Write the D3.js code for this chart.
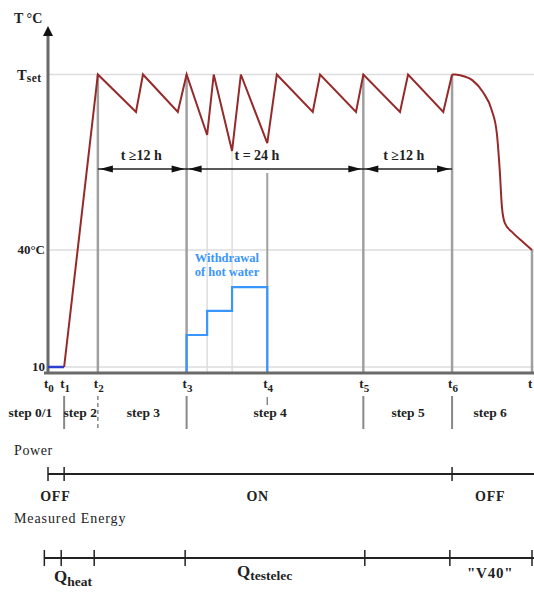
<!DOCTYPE html>
<html><head><meta charset="utf-8">
<script src="https://cdn.jsdelivr.net/npm/d3@7"></script>
<style>body{margin:0;background:#fff}svg{display:block}text{font-family:"Liberation Serif","Times New Roman",serif}</style>
</head><body><svg id="c" width="534" height="594"></svg>
<script>
// ---- data ----
const tickNames = ["0","1","2","3","4","5","6","7"];
const tickTimes = [0, 2.2, 6.8, 18.9, 29.9, 43, 55.1, 66];
const stepNames = ["step 0/1","step 2","step 3","step 4","step 5","step 6"];
const stepCenters = [-2.4, 4.4, 13.0, 30.3, 49.1, 60.3];
const sawTimes = [2.2, 6.8, 12.0, 12.95, 17.7, 18.9, 21.7, 22.6, 25.1, 26.3, 29.9, 31.2, 36.1, 37.1, 42.0, 43.0, 48.0, 49.1, 53.9, 55.1];
const sawTemps = [10, 85, 75.4, 85, 75.4, 85, 69.5, 85, 65.4, 85, 67.4, 85, 75.4, 85, 75.4, 85, 75.4, 85, 75.4, 85];
const coolTimes = [55.1, 55.5, 56.2, 57.9, 59.3, 60.5, 61.2, 61.6, 61.9, 62.3, 63.4, 64.8, 66];
const coolTemps = [85, 85, 84.8, 83.5, 80.5, 75.9, 70, 60.5, 51, 46.9, 44.4, 42, 40];
const drawTimes = [18.9, 21.7, 25.1, 29.9];
const drawLevels = [18.2, 24.4, 30.5];
const spanLabels = ["t \u226512 h", "t = 24 h", "t \u226512 h"];
const spanStarts = [6.8, 18.9, 43];
const spanEnds = [18.9, 43, 55.1];
const tempLabels = [40, 10];
const Tset = 85;
const powerTicks = [0, 2.2, 55.1];
const powerLabels = ["OFF","ON","OFF"];
const powerLabelPos = [1.0, 28.6, 60.3];
const energyTicks = [-0.5, 1.8, 6.3, 18.7, 43.2, 54.8, 66];

// ---- scales ----
const x = d3.scaleLinear().domain([0, 66]).range([48, 532]);
const y = d3.scaleLinear().domain([10, 40]).range([367, 250]);
const svg = d3.select("#c");
const ink = "#222";

// gridlines
[Tset, 40, 10].forEach(t => {
  svg.append("line").attr("x1", x(0)).attr("x2", 534).attr("y1", y(t)).attr("y2", y(t))
    .attr("stroke", "#ddd").attr("stroke-width", 1.5);
});

// light trough lines in step 4
[21.7, 25.1].forEach((t, i) => {
  svg.append("line").attr("x1", x(t)).attr("x2", x(t)).attr("y1", y(sawTemps[6 + i * 2])).attr("y2", 373)
    .attr("stroke", "#ddd").attr("stroke-width", 1.5);
});

// main verticals
const vCol = "#a0a0a0";
[2, 3, 5, 6].forEach(i => {
  svg.append("line").attr("x1", x(tickTimes[i])).attr("x2", x(tickTimes[i])).attr("y1", y(Tset)).attr("y2", 373)
    .attr("stroke", vCol).attr("stroke-width", 2.5);
});
svg.append("line").attr("x1", x(tickTimes[4])).attr("x2", x(tickTimes[4])).attr("y1", 173).attr("y2", 373)
  .attr("stroke", vCol).attr("stroke-width", 2);
svg.append("line").attr("x1", x(tickTimes[7])).attr("x2", x(tickTimes[7])).attr("y1", y(40)).attr("y2", 373)
  .attr("stroke", vCol).attr("stroke-width", 2.5);

// withdrawal steps
const drawPts = [[drawTimes[0], 8.5]];
drawLevels.forEach((lv, i) => { drawPts.push([drawTimes[i], lv]); drawPts.push([drawTimes[i + 1], lv]); });
drawPts.push([drawTimes[3], 8.5]);
svg.append("path").attr("d", d3.line().x(d => x(d[0])).y(d => y(d[1]))(drawPts))
  .attr("fill", "none").attr("stroke", "#3a96ff").attr("stroke-width", 2.2);
const wt = svg.append("text").attr("text-anchor", "middle").attr("fill", "#3a96ff")
  .attr("font-size", 12.5).attr("font-weight", "bold");
wt.append("tspan").attr("x", x(24.4)).attr("y", 262).text("Withdrawal");
wt.append("tspan").attr("x", x(24.4)).attr("y", 276).text("of hot water");

// axes
svg.append("line").attr("x1", 44).attr("x2", 534).attr("y1", 373).attr("y2", 373)
  .attr("stroke", "#6a6a6a").attr("stroke-width", 3);
svg.append("line").attr("x1", x(0)).attr("x2", x(0)).attr("y1", 34).attr("y2", 374)
  .attr("stroke", "#6a6a6a").attr("stroke-width", 3);
svg.append("path").attr("d", `M${x(0)},26 L${x(0) - 5},36 L${x(0) + 5},36 Z`).attr("fill", "#111");

// blue start segment
svg.append("line").attr("x1", x(0)).attr("x2", x(tickTimes[1])).attr("y1", y(10)).attr("y2", y(10))
  .attr("stroke", "#2a3fd0").attr("stroke-width", 2.5);

// temperature curve
const red = "#962a2a";
svg.append("path").attr("d", d3.line().x(d => x(d)).y((d, i) => y(sawTemps[i]))(sawTimes))
  .attr("fill", "none").attr("stroke", red).attr("stroke-width", 2);
svg.append("path").attr("d", d3.line().curve(d3.curveMonotoneX).x(d => x(d)).y((d, i) => y(coolTemps[i]))(coolTimes))
  .attr("fill", "none").attr("stroke", red).attr("stroke-width", 2);

// span arrows
const ay = 169;
svg.append("line").attr("x1", x(spanStarts[0])).attr("x2", x(spanEnds[2])).attr("y1", ay).attr("y2", ay)
  .attr("stroke", "#222").attr("stroke-width", 1.3);
const arrow = (xt, dir) => svg.append("path")
  .attr("d", `M${xt},${ay} L${xt - dir * 13},${ay - 3.5} L${xt - dir * 13},${ay + 3.5} Z`).attr("fill", "#111");
const labelOffsets = [-1, -18, -4];
spanStarts.forEach((s, i) => {
  arrow(x(s) + 2, -1);
  arrow(x(spanEnds[i]) - 2, 1);
  svg.append("text").attr("x", (x(s) + x(spanEnds[i])) / 2 + labelOffsets[i]).attr("y", 160)
    .attr("text-anchor", "middle").attr("font-size", 14).attr("font-weight", "bold").attr("fill", ink)
    .text(spanLabels[i]);
});

// axis labels
svg.append("text").attr("x", 14).attr("y", 23).attr("font-size", 14).attr("font-weight", "bold").attr("fill", ink).text("T \u00b0C");
const ts = svg.append("text").attr("x", 17).attr("y", y(Tset) + 5).attr("font-size", 14.5).attr("font-weight", "bold").attr("fill", ink);
ts.append("tspan").text("T");
ts.append("tspan").attr("font-size", 11.5).attr("dy", 2).attr("letter-spacing", 0.5).text("set");
tempLabels.forEach(t => {
  svg.append("text").attr("x", 45).attr("y", y(t) + 4).attr("text-anchor", "end").attr("font-size", 13)
    .attr("font-weight", "bold").attr("fill", ink).text(t === 40 ? "40\u00b0C" : t);
});

// t tick labels
tickTimes.forEach((t, i) => {
  const tx = svg.append("text").attr("x", x(t) - 4).attr("y", 388).attr("font-size", 13)
    .attr("font-weight", "bold").attr("fill", ink);
  tx.append("tspan").text("t");
  tx.append("tspan").attr("font-size", 11).attr("dy", 4).text(i === 7 ? "" : tickNames[i]);
});

// step separators
const sepCol = "#888";
[1, 3, 5, 6].forEach(i => {
  svg.append("line").attr("x1", x(tickTimes[i])).attr("x2", x(tickTimes[i])).attr("y1", 396).attr("y2", 429)
    .attr("stroke", sepCol).attr("stroke-width", 2);
});
svg.append("line").attr("x1", x(tickTimes[2])).attr("x2", x(tickTimes[2])).attr("y1", 396).attr("y2", 430)
  .attr("stroke", sepCol).attr("stroke-width", 1.5).attr("stroke-dasharray", "4,3");
svg.append("line").attr("x1", x(tickTimes[4])).attr("x2", x(tickTimes[4])).attr("y1", 397).attr("y2", 405)
  .attr("stroke", sepCol).attr("stroke-width", 1.5);
stepNames.forEach((s, i) => {
  svg.append("text").attr("x", x(stepCenters[i])).attr("y", 417).attr("text-anchor", "middle")
    .attr("font-size", 13.5).attr("font-weight", "bold").attr("fill", ink).text(s);
});

// Power timeline
svg.append("text").attr("x", 14).attr("y", 455).attr("font-size", 14).attr("letter-spacing", 0.6).attr("fill", ink).text("Power");
svg.append("line").attr("x1", x(powerTicks[0])).attr("x2", 534).attr("y1", 474).attr("y2", 474)
  .attr("stroke", "#222").attr("stroke-width", 2);
powerTicks.forEach(t => {
  svg.append("line").attr("x1", x(t)).attr("x2", x(t)).attr("y1", 467).attr("y2", 481)
    .attr("stroke", "#222").attr("stroke-width", 1.5);
});
powerLabels.forEach((l, i) => {
  svg.append("text").attr("x", x(powerLabelPos[i])).attr("y", 501).attr("text-anchor", "middle")
    .attr("font-size", 14).attr("font-weight", "bold").attr("letter-spacing", 0.8).attr("fill", ink).text(l);
});

// Measured energy timeline
svg.append("text").attr("x", 14).attr("y", 523).attr("font-size", 14).attr("letter-spacing", 0.9).attr("fill", ink).text("Measured Energy");
svg.append("line").attr("x1", x(energyTicks[0])).attr("x2", 534).attr("y1", 558).attr("y2", 558)
  .attr("stroke", "#222").attr("stroke-width", 2.2);
energyTicks.forEach(t => {
  svg.append("line").attr("x1", x(t)).attr("x2", x(t)).attr("y1", 550).attr("y2", 566)
    .attr("stroke", "#222").attr("stroke-width", 1.5);
});
const q1 = svg.append("text").attr("x", 54).attr("y", 582).attr("font-size", 17).attr("font-weight", "bold").attr("fill", ink);
q1.append("tspan").text("Q");
q1.append("tspan").attr("font-size", 13.5).attr("dy", 4).text("heat");
const q2 = svg.append("text").attr("x", 237).attr("y", 577).attr("font-size", 17).attr("font-weight", "bold").attr("fill", ink);
q2.append("tspan").text("Q");
q2.append("tspan").attr("font-size", 13.5).attr("dy", 3).text("testelec");
svg.append("text").attr("x", x(60.3)).attr("y", 578).attr("text-anchor", "middle").attr("font-size", 15)
  .attr("font-weight", "bold").attr("letter-spacing", 0.8).attr("fill", ink).text("\"V40\"");
</script></body></html>
